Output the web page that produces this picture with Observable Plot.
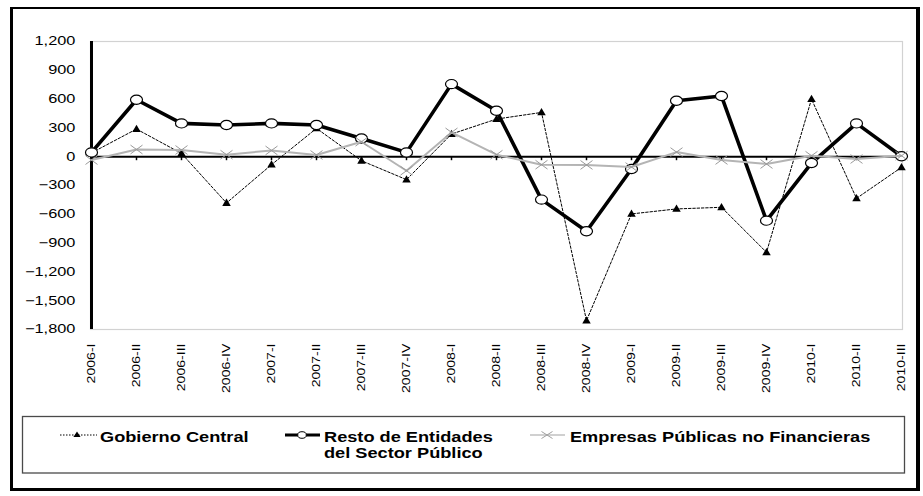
<!DOCTYPE html>
<html>
<head>
<meta charset="utf-8">
<script src="https://cdn.jsdelivr.net/npm/d3@7"></script>
<script src="https://cdn.jsdelivr.net/npm/@observablehq/plot@0.6"></script>
<style>
  html, body { margin: 0; padding: 0; background: #fff; }
  #wrap { position: relative; width: 923px; height: 496px; overflow: hidden; background: #fff; }
  #chart { position: absolute; left: 0; top: 0; }
  #legend { position: absolute; left: 0; top: 410px; }
  #frame { position: absolute; left: 10px; top: 7px; width: 910px; height: 484px; box-sizing: border-box;
           border-style: solid; border-color: #000; border-width: 2px 4px 3px 3px; pointer-events: none; }
</style>
</head>
<body>
<div id="wrap">
  <div id="chart"></div>
  <div id="legend"></div>
  <div id="frame"></div>
</div>
<script>
// ---- data ----
const categories = ["2006-I","2006-II","2006-III","2006-IV","2007-I","2007-II","2007-III","2007-IV",
  "2008-I","2008-II","2008-III","2008-IV","2009-I","2009-II","2009-III","2009-IV","2010-I","2010-II","2010-III"];
const gobiernoCentral = [40, 288, 34, -482, -83, 295, -42, -239, 236, 392, 461, -1707, -596, -544, -527, -996, 600, -434, -111];
const restoEntidades = [45, 593, 347, 330, 347, 330, 190, 45, 756, 479, -447, -777, -128, 583, 632, -666, -66, 347, 5];
const empresasPublicas = [-35, 75, 70, 21, 65, 18, 156, -146, 253, 21, -83, -86, -108, 48, -34, -76, 10, -24, 10];
const yTicks = [1200, 900, 600, 300, 0, -300, -600, -900, -1200, -1500, -1800];
const seriesNames = ["Gobierno Central", "Resto de Entidades\ndel Sector Público", "Empresas Públicas no Financieras"];

const gob = categories.map((c, i) => ({c, v: gobiernoCentral[i]}));
const resto = categories.map((c, i) => ({c, v: restoEntidades[i]}));
const emp = categories.map((c, i) => ({c, v: empresasPublicas[i]}));

// ---- custom symbols (slightly wide, like the reference) ----
const K = 0.5523;
const ellipseSym = (a, b) => ({draw(ctx) {
  const ka = a * K, kb = b * K;
  ctx.moveTo(a, 0);
  ctx.bezierCurveTo(a, kb, ka, b, 0, b);
  ctx.bezierCurveTo(-ka, b, -a, kb, -a, 0);
  ctx.bezierCurveTo(-a, -kb, -ka, -b, 0, -b);
  ctx.bezierCurveTo(ka, -b, a, -kb, a, 0);
  ctx.closePath();
}});
const triSym = (w, h) => ({draw(ctx) {
  ctx.moveTo(0, -h * 0.6); ctx.lineTo(w / 2, h * 0.4); ctx.lineTo(-w / 2, h * 0.4); ctx.closePath();
}});
const xSym = (w, h) => ({draw(ctx) {
  ctx.moveTo(-w, -h); ctx.lineTo(w, h); ctx.moveTo(-w, h); ctx.lineTo(w, -h);
}});

const fmt = d3.format(",");
const FONT = "'Liberation Sans', Arial, sans-serif";

const plot = Plot.plot({
  width: 923,
  height: 410,
  marginTop: 41,
  marginLeft: 90,
  marginRight: 21,
  marginBottom: 81,
  style: {fontFamily: FONT, background: "transparent", color: "#000"},
  x: {type: "point", domain: categories, padding: 0, axis: null},
  y: {domain: [-1800, 1200], axis: null},
  marks: [
    Plot.frame({stroke: "#d2d2d2", strokeWidth: 1.2}),
    // y tick marks and labels
    Plot.ruleY(yTicks, {y: d => d, x1: categories[0], x2: categories[0], insetLeft: -4, stroke: "#000", strokeWidth: 2}),
    Plot.text(yTicks, {y: d => d, frameAnchor: "left", textAnchor: "end", dx: -15, text: d => fmt(d), fontSize: 12.3, fill: "#000"}),
    // zero line and its category ticks
    Plot.ruleY([0], {stroke: "#000", strokeWidth: 2}),
    Plot.ruleX(categories, {x: d => d, y1: 0, y2: 0, insetBottom: -4, stroke: "#000", strokeWidth: 1.5}),
    // y axis line
    Plot.ruleX([categories[0]], {x: d => d, stroke: "#000", strokeWidth: 3}),
    // x labels
    Plot.text(categories, {x: d => d, frameAnchor: "bottom", rotate: -90, textAnchor: "end", lineAnchor: "middle", dy: 14, text: d => d, fontSize: 11, fill: "#000"}),
    // Gobierno Central
    Plot.line(gob, {x: "c", y: "v", stroke: "#000", strokeWidth: 1, strokeDasharray: "2.5,1.8"}),
    Plot.dot(gob, {x: "c", y: "v", symbol: triSym(8.5, 7.3), fill: "#000", stroke: "none"}),
    // Resto de Entidades
    Plot.line(resto, {x: "c", y: "v", stroke: "#000", strokeWidth: 3.6, strokeLinejoin: "round"}),
    Plot.dot(resto, {x: "c", y: "v", symbol: ellipseSym(6, 4.6), fill: "#fff", stroke: "#000", strokeWidth: 1.2}),
    // Empresas Públicas no Financieras
    Plot.line(emp, {x: "c", y: "v", stroke: "#b4b4b4", strokeWidth: 2}),
    Plot.dot(emp, {x: "c", y: "v", symbol: xSym(6, 4.4), fill: "none", stroke: "#9a9a9a", strokeWidth: 1})
  ]
});
document.getElementById("chart").appendChild(plot);

// stretch text along its direction, like the reference rendering
function stretch(svg) {
  svg.querySelectorAll("text").forEach(t => {
    const tr = t.getAttribute("transform") || "";
    const s = tr.includes("rotate") ? 1.28 : (+t.dataset.s || 1.33);
    const b = t.getBBox();
    const anchor = getComputedStyle(t).textAnchor;
    const ax = anchor === "end" ? b.x + b.width : anchor === "middle" ? b.x + b.width / 2 : b.x;
    t.setAttribute("transform", `${tr} translate(${ax},0) scale(${s},1) translate(${-ax},0)`);
  });
}
stretch(plot);

// ---- legend (below the chart svg) ----
const lg = d3.select("#legend").append("svg").attr("width", 923).attr("height", 86)
  .style("font-family", FONT);
lg.append("rect").attr("x", 22.5).attr("y", 6.5).attr("width", 882).attr("height", 56.5)
  .attr("fill", "none").attr("stroke", "#4a4a4a").attr("stroke-width", 1.3);
const sy = 25;
// Gobierno
lg.append("line").attr("x1", 60).attr("x2", 97).attr("y1", sy).attr("y2", sy)
  .attr("stroke", "#000").attr("stroke-width", 1).attr("stroke-dasharray", "1.5,1.5");
lg.append("path").attr("d", "M77,21.5L80.6,27L73.4,27Z").attr("fill", "#000");
// Resto
lg.append("line").attr("x1", 285).attr("x2", 320).attr("y1", sy).attr("y2", sy)
  .attr("stroke", "#000").attr("stroke-width", 3);
lg.append("ellipse").attr("cx", 302).attr("cy", sy).attr("rx", 4.3).attr("ry", 3.3)
  .attr("fill", "#fff").attr("stroke", "#000").attr("stroke-width", 1);
// Empresas
lg.append("line").attr("x1", 530).attr("x2", 565).attr("y1", sy).attr("y2", sy)
  .attr("stroke", "#c0c0c0").attr("stroke-width", 1.5);
lg.append("path").attr("d", "M541.5,21.5L552.5,28.5M541.5,28.5L552.5,21.5").attr("stroke", "#a0a0a0").attr("stroke-width", 1);

const legendTexts = [
  {x: 100, y: 31.7, t: seriesNames[0].split("\n")},
  {x: 324, y: 31.7, t: seriesNames[1].split("\n")},
  {x: 570, y: 31.7, t: seriesNames[2].split("\n")}
];
legendTexts.forEach(d => {
  d.t.forEach((line, j) => {
    lg.append("text").attr("x", d.x).attr("y", d.y + j * 16.7)
      .attr("font-size", 14.8).attr("font-weight", "bold").attr("fill", "#000")
      .attr("text-anchor", "start").attr("data-s", 1.23).text(line);
  });
});
stretch(lg.node());
</script>
</body>
</html>
